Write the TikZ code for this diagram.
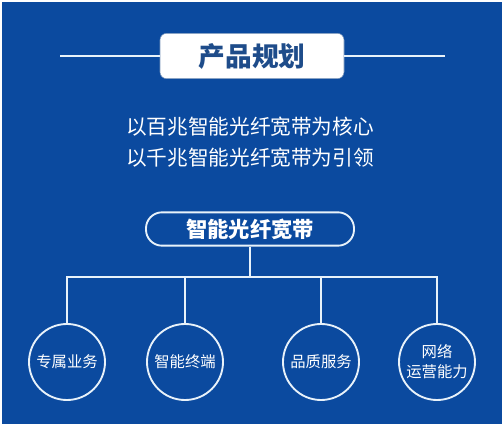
\documentclass[tikz,border=0pt]{standalone}
\usepackage{fontspec}
\setmainfont{Noto Sans CJK SC}
\usepackage{tikz}
\usetikzlibrary{positioning,calc}
\definecolor{pbblue}{HTML}{0B4A9F}
\definecolor{pbtitle}{HTML}{1E4C8A}
\definecolor{pbline}{HTML}{E8F2FA}
\tikzset{
  title/.style={draw=pbtitle!60,fill=white,rounded corners=5pt,align=center,
                minimum width=138pt,minimum height=34pt,inner sep=2pt,
                font=\fontsize{20}{24}\selectfont\bfseries,text=pbtitle},
  slogan/.style={align=center,text=white,inner sep=1pt,
                 font=\fontsize{15.5}{24}\selectfont},
  capsule/.style={draw=pbline,line width=1.4pt,rounded corners=12pt,
                  minimum width=156pt,minimum height=25pt,inner sep=2pt,
                  text=white,font=\fontsize{16}{19}\selectfont\bfseries},
  leaf/.style={draw=pbline,line width=1.4pt,circle,minimum size=57pt,
               inner sep=0pt,align=center,text=white,
               font=\fontsize{11.5}{15}\selectfont},
  ln/.style={draw=pbline,line width=1.4pt},
}
\begin{document}
\begin{tikzpicture}[x=0.75pt,y=-0.75pt]
  \useasboundingbox (0,0) rectangle (504,428);
  \fill[pbblue] (2,2) rectangle (502,424);
  % header
  \node[title] (head) at (252,56) {产品规划};
  \coordinate (hl) at (60,56);
  \coordinate (hr) at (445,56);
  \draw[ln,line width=1.2pt] (hl) -- (head.west);
  \draw[ln,line width=1.2pt] (head.east) -- (hr);
  \node[slogan] (s1) at (250,127) {以百兆智能光纤宽带为核心};
  \node[slogan,below=6pt of s1] (s2) {以千兆智能光纤宽带为引领};
  % tree
  \node[capsule] (root) at (250,229) {智能光纤宽带};
  \node[leaf] (c1) at (67,362) {专属业务};
  \node[leaf] (c2) at (185,362) {智能终端};
  \node[leaf] (c3) at (321,362) {品质服务};
  \node[leaf] (c4) at (437,362) {网络\\运营能力};
  \coordinate (hub) at (250,277);
  \draw[ln] (root) -- (hub);
  \draw[ln] (c1.north) |- (hub) -| (c4.north);
  \draw[ln] (c2.north) -- (c2.north |- hub);
  \draw[ln] (c3.north) -- (c3.north |- hub);
\end{tikzpicture}
\end{document}
